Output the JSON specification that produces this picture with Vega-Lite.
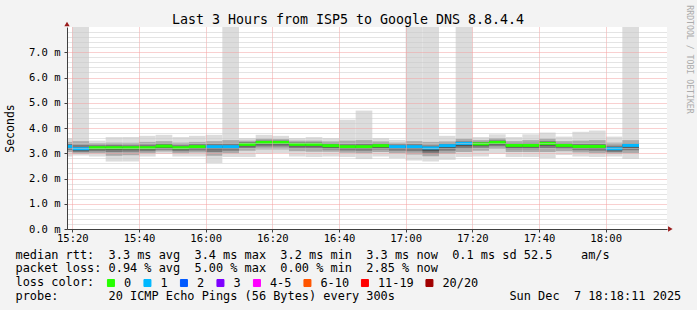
{
  "$schema": "https://vega.github.io/schema/vega-lite/v6.json",
  "width": 600,
  "height": 202,
  "autosize": {"type": "none"},
  "padding": {"left": 67, "top": 27, "right": 30, "bottom": 81},
  "background": "#F3F3F3",
  "config": {"view": {"fill": "white", "stroke": null}, "font": "DejaVu Sans Mono"},
  "title": {"text": "Last 3 Hours from ISP5 to Google DNS 8.8.4.4", "font": "DejaVu Sans Mono", "fontSize": 13.3, "fontWeight": "normal", "color": "black", "anchor": "middle", "dx": -19, "dy": 36.8, "offset": 4.5, "baseline": "alphabetic"},
  "data": {"values": [
    {"t0": 15, "t1": 20, "lo": 2.87, "hi": 3.60, "lo2": 3.05, "hi2": 3.45, "lo3": 3.13, "hi3": 3.37, "lo4": 3.20, "hi4": 3.30, "med": 3.27, "loss": "1"},
    {"t0": 20, "t1": 25, "lo": 2.91, "hi": 8, "lo2": 2.98, "hi2": 3.48, "lo3": 3.05, "hi3": 3.33, "lo4": 3.10, "hi4": 3.22, "med": 3.18, "loss": "1"},
    {"t0": 25, "t1": 30, "lo": 2.87, "hi": 3.50, "lo2": 3.00, "hi2": 3.40, "lo3": 3.08, "hi3": 3.32, "lo4": 3.15, "hi4": 3.25, "med": 3.22, "loss": "0"},
    {"t0": 30, "t1": 35, "lo": 2.67, "hi": 3.64, "lo2": 2.90, "hi2": 3.42, "lo3": 3.05, "hi3": 3.33, "lo4": 3.14, "hi4": 3.25, "med": 3.22, "loss": "0"},
    {"t0": 35, "t1": 40, "lo": 2.67, "hi": 3.64, "lo2": 2.92, "hi2": 3.42, "lo3": 3.06, "hi3": 3.32, "lo4": 3.15, "hi4": 3.25, "med": 3.22, "loss": "0"},
    {"t0": 40, "t1": 45, "lo": 2.87, "hi": 3.69, "lo2": 3.00, "hi2": 3.45, "lo3": 3.08, "hi3": 3.34, "lo4": 3.15, "hi4": 3.25, "med": 3.22, "loss": "0"},
    {"t0": 45, "t1": 50, "lo": 2.98, "hi": 3.73, "lo2": 3.07, "hi2": 3.48, "lo3": 3.14, "hi3": 3.38, "lo4": 3.21, "hi4": 3.31, "med": 3.28, "loss": "0"},
    {"t0": 50, "t1": 55, "lo": 2.87, "hi": 3.64, "lo2": 3.00, "hi2": 3.42, "lo3": 3.08, "hi3": 3.32, "lo4": 3.15, "hi4": 3.25, "med": 3.22, "loss": "0"},
    {"t0": 55, "t1": 60, "lo": 2.87, "hi": 3.69, "lo2": 3.03, "hi2": 3.45, "lo3": 3.11, "hi3": 3.36, "lo4": 3.18, "hi4": 3.29, "med": 3.26, "loss": "0"},
    {"t0": 60, "t1": 65, "lo": 2.61, "hi": 3.73, "lo2": 2.90, "hi2": 3.48, "lo3": 3.05, "hi3": 3.37, "lo4": 3.16, "hi4": 3.29, "med": 3.26, "loss": "1"},
    {"t0": 65, "t1": 70, "lo": 2.85, "hi": 8, "lo2": 3.00, "hi2": 3.52, "lo3": 3.10, "hi3": 3.38, "lo4": 3.18, "hi4": 3.29, "med": 3.26, "loss": "1"},
    {"t0": 70, "t1": 75, "lo": 2.85, "hi": 3.60, "lo2": 3.10, "hi2": 3.50, "lo3": 3.20, "hi3": 3.44, "lo4": 3.27, "hi4": 3.38, "med": 3.35, "loss": "0"},
    {"t0": 75, "t1": 80, "lo": 2.98, "hi": 3.73, "lo2": 3.15, "hi2": 3.58, "lo3": 3.27, "hi3": 3.50, "lo4": 3.35, "hi4": 3.46, "med": 3.43, "loss": "0"},
    {"t0": 80, "t1": 85, "lo": 3.00, "hi": 3.69, "lo2": 3.15, "hi2": 3.56, "lo3": 3.27, "hi3": 3.50, "lo4": 3.35, "hi4": 3.46, "med": 3.43, "loss": "0"},
    {"t0": 85, "t1": 90, "lo": 2.87, "hi": 3.60, "lo2": 3.08, "hi2": 3.50, "lo3": 3.19, "hi3": 3.43, "lo4": 3.27, "hi4": 3.38, "med": 3.35, "loss": "0"},
    {"t0": 90, "t1": 95, "lo": 2.85, "hi": 3.64, "lo2": 3.06, "hi2": 3.50, "lo3": 3.19, "hi3": 3.43, "lo4": 3.27, "hi4": 3.38, "med": 3.35, "loss": "0"},
    {"t0": 95, "t1": 100, "lo": 2.87, "hi": 3.60, "lo2": 3.06, "hi2": 3.47, "lo3": 3.15, "hi3": 3.39, "lo4": 3.22, "hi4": 3.33, "med": 3.30, "loss": "0"},
    {"t0": 100, "t1": 105, "lo": 2.85, "hi": 4.33, "lo2": 3.02, "hi2": 3.50, "lo3": 3.11, "hi3": 3.36, "lo4": 3.18, "hi4": 3.29, "med": 3.26, "loss": "0"},
    {"t0": 105, "t1": 110, "lo": 2.77, "hi": 4.69, "lo2": 3.00, "hi2": 3.52, "lo3": 3.10, "hi3": 3.37, "lo4": 3.18, "hi4": 3.29, "med": 3.26, "loss": "0"},
    {"t0": 110, "t1": 115, "lo": 2.87, "hi": 3.60, "lo2": 3.05, "hi2": 3.47, "lo3": 3.15, "hi3": 3.39, "lo4": 3.22, "hi4": 3.33, "med": 3.30, "loss": "0"},
    {"t0": 115, "t1": 120, "lo": 2.80, "hi": 3.53, "lo2": 3.00, "hi2": 3.42, "lo3": 3.10, "hi3": 3.35, "lo4": 3.18, "hi4": 3.29, "med": 3.26, "loss": "1"},
    {"t0": 120, "t1": 125, "lo": 2.71, "hi": 8, "lo2": 2.95, "hi2": 3.48, "lo3": 3.08, "hi3": 3.36, "lo4": 3.17, "hi4": 3.29, "med": 3.26, "loss": "1"},
    {"t0": 125, "t1": 130, "lo": 2.67, "hi": 8, "lo2": 2.88, "hi2": 3.45, "lo3": 2.98, "hi3": 3.31, "lo4": 3.08, "hi4": 3.24, "med": 3.21, "loss": "1"},
    {"t0": 130, "t1": 135, "lo": 2.74, "hi": 3.69, "lo2": 2.98, "hi2": 3.47, "lo3": 3.10, "hi3": 3.39, "lo4": 3.20, "hi4": 3.33, "med": 3.30, "loss": "1"},
    {"t0": 135, "t1": 140, "lo": 2.85, "hi": 8, "lo2": 3.05, "hi2": 3.58, "lo3": 3.18, "hi3": 3.47, "lo4": 3.28, "hi4": 3.42, "med": 3.39, "loss": "1"},
    {"t0": 140, "t1": 145, "lo": 2.87, "hi": 3.64, "lo2": 3.10, "hi2": 3.52, "lo3": 3.22, "hi3": 3.45, "lo4": 3.29, "hi4": 3.40, "med": 3.37, "loss": "0"},
    {"t0": 145, "t1": 150, "lo": 2.98, "hi": 3.75, "lo2": 3.17, "hi2": 3.60, "lo3": 3.28, "hi3": 3.51, "lo4": 3.35, "hi4": 3.46, "med": 3.43, "loss": "0"},
    {"t0": 150, "t1": 155, "lo": 2.85, "hi": 3.64, "lo2": 3.05, "hi2": 3.48, "lo3": 3.16, "hi3": 3.40, "lo4": 3.23, "hi4": 3.34, "med": 3.31, "loss": "0"},
    {"t0": 155, "t1": 160, "lo": 2.85, "hi": 3.75, "lo2": 3.05, "hi2": 3.52, "lo3": 3.16, "hi3": 3.41, "lo4": 3.23, "hi4": 3.34, "med": 3.31, "loss": "0"},
    {"t0": 160, "t1": 165, "lo": 2.80, "hi": 3.82, "lo2": 3.05, "hi2": 3.58, "lo3": 3.20, "hi3": 3.48, "lo4": 3.30, "hi4": 3.42, "med": 3.39, "loss": "0"},
    {"t0": 165, "t1": 170, "lo": 2.93, "hi": 3.66, "lo2": 3.08, "hi2": 3.48, "lo3": 3.17, "hi3": 3.40, "lo4": 3.24, "hi4": 3.34, "med": 3.31, "loss": "0"},
    {"t0": 170, "t1": 175, "lo": 2.87, "hi": 3.85, "lo2": 3.03, "hi2": 3.50, "lo3": 3.12, "hi3": 3.37, "lo4": 3.19, "hi4": 3.30, "med": 3.27, "loss": "0"},
    {"t0": 175, "t1": 180, "lo": 2.85, "hi": 3.90, "lo2": 3.00, "hi2": 3.52, "lo3": 3.10, "hi3": 3.37, "lo4": 3.18, "hi4": 3.30, "med": 3.27, "loss": "0"},
    {"t0": 180, "t1": 185, "lo": 2.87, "hi": 3.66, "lo2": 2.98, "hi2": 3.42, "lo3": 3.05, "hi3": 3.30, "lo4": 3.11, "hi4": 3.21, "med": 3.18, "loss": "1"},
    {"t0": 185, "t1": 190, "lo": 2.77, "hi": 8, "lo2": 3.00, "hi2": 3.52, "lo3": 3.12, "hi3": 3.40, "lo4": 3.22, "hi4": 3.34, "med": 3.31, "loss": "1"}
  ]},
  "resolve": {"axis": {"y": "independent"}},
  "layer": [
    {
      "mark": {"type": "rect", "color": "#DCDCDC", "clip": true},
      "encoding": {
        "x": {"field": "t0", "type": "quantitative",
          "scale": {"domain": [18.4, 198.4], "nice": false, "zero": false},
          "axis": {
            "values": [20,25,30,35,40,45,50,55,60,65,70,75,80,85,90,95,100,105,110,115,120,125,130,135,140,145,150,155,160,165,170,175,180,185,190,195],
            "labelExpr": "datum.value % 20 == 0 ? (15 + floor(datum.value / 60)) + ':' + (datum.value % 60 < 10 ? '0' : '') + (datum.value % 60) : ''",
            "labelFont": "DejaVu Sans Mono", "labelFontSize": 10.5, "labelColor": "black", "labelPadding": 1, "labelOverlap": false, "labelFlush": false,
            "grid": true, "gridDash": [1, 1], "gridWidth": 1,
            "gridColor": {"condition": {"test": "datum.value % 20 == 0", "value": "#F3A0A0"}, "value": "#C8C8C8"},
            "ticks": true, "tickSize": 3, "tickColor": "#404040",
            "tickOpacity": {"condition": {"test": "datum.value % 20 == 0", "value": 1}, "value": 0},
            "domainColor": "#404040", "zindex": 1,
            "title": ["median\u00a0rtt:\u00a0\u00a03.3\u00a0ms\u00a0avg\u00a0\u00a03.4\u00a0ms\u00a0max\u00a0\u00a03.2\u00a0ms\u00a0min\u00a0\u00a03.3\u00a0ms\u00a0now\u00a0\u00a00.1\u00a0ms\u00a0sd\u00a052.5\u00a0\u00a0\u00a0\u00a0am/s", "packet\u00a0loss:\u00a00.94\u00a0%\u00a0avg\u00a0\u00a05.00\u00a0%\u00a0max\u00a0\u00a00.00\u00a0%\u00a0min\u00a0\u00a02.85\u00a0%\u00a0now", "loss\u00a0color:", "probe:\u00a0\u00a0\u00a0\u00a0\u00a0\u00a0\u00a020\u00a0ICMP\u00a0Echo\u00a0Pings\u00a0(56\u00a0Bytes)\u00a0every\u00a0300s\u00a0\u00a0\u00a0\u00a0\u00a0\u00a0\u00a0\u00a0\u00a0\u00a0\u00a0\u00a0\u00a0\u00a0\u00a0\u00a0Sun\u00a0Dec\u00a0\u00a07\u00a018:18:11\u00a02025"],
            "titleFont": "DejaVu Sans Mono", "titleFontSize": 11.9, "titleFontWeight": "normal", "titleColor": "black",
            "titleAlign": "left", "titleBaseline": "alphabetic", "titleAnchor": "start", "titleX": -52, "titleY": 29.3, "titleLineHeight": 13.67, "titleAngle": 0
          }
        },
        "x2": {"field": "t1"},
        "y": {"field": "lo", "type": "quantitative",
          "scale": {"domain": [0, 8], "nice": false, "zero": true},
          "axis": {
            "values": [0,0.2,0.4,0.6,0.8,1,1.2,1.4,1.6,1.8,2,2.2,2.4,2.6,2.8,3,3.2,3.4,3.6,3.8,4,4.2,4.4,4.6,4.8,5,5.2,5.4,5.6,5.8,6,6.2,6.4,6.6,6.8,7,7.2,7.4,7.6,7.8],
            "labelExpr": "abs(datum.value - round(datum.value)) < 0.01 ? format(datum.value, '.1f') + ' m' : ''",
            "labelFont": "DejaVu Sans Mono", "labelFontSize": 10.5, "labelColor": "black", "labelPadding": 4, "labelOverlap": false, "labelFlush": false,
            "grid": true, "gridDash": [1, 1], "gridWidth": 1,
            "gridColor": {"condition": {"test": "abs(datum.value - round(datum.value)) < 0.01", "value": "#F3A0A0"}, "value": "#C8C8C8"},
            "ticks": true, "tickSize": 3, "tickColor": "#404040",
            "tickOpacity": {"condition": {"test": "abs(datum.value - round(datum.value)) < 0.01", "value": 1}, "value": 0},
            "domainColor": "#404040", "zindex": 1,
            "title": "Seconds", "titleFont": "DejaVu Sans Mono", "titleFontSize": 11.5, "titleFontWeight": "normal", "titleColor": "black",
            "titleAngle": 270, "titleX": -57, "titleY": 101, "titleAlign": "center", "titleBaseline": "middle"
          }
        },
        "y2": {"field": "hi"}
      }
    },
    {
      "mark": {"type": "rect", "color": "#ABABAB", "clip": true},
      "encoding": {
        "x": {"field": "t0", "type": "quantitative"},
        "x2": {"field": "t1"},
        "y": {"field": "lo2", "type": "quantitative", "axis": null},
        "y2": {"field": "hi2"}
      }
    },
    {
      "mark": {"type": "rect", "color": "#7C7C7C", "clip": true},
      "encoding": {
        "x": {"field": "t0", "type": "quantitative"},
        "x2": {"field": "t1"},
        "y": {"field": "lo3", "type": "quantitative", "axis": null},
        "y2": {"field": "hi3"}
      }
    },
    {
      "mark": {"type": "rect", "color": "#515151", "clip": true},
      "encoding": {
        "x": {"field": "t0", "type": "quantitative"},
        "x2": {"field": "t1"},
        "y": {"field": "lo4", "type": "quantitative",
          "axis": {"orient": "right", "title": "RRDTOOL / TOBI OETIKER", "labels": false, "ticks": false, "domain": false, "grid": false,
            "titleAngle": 90, "titleX": 21, "titleY": 32, "titleAlign": "center", "titleBaseline": "middle",
            "titleFont": "DejaVu Sans Mono", "titleFontSize": 8.2, "titleFontWeight": "normal", "titleColor": "#ABABAB"}},
        "y2": {"field": "hi4"}
      }
    },
    {
      "mark": {"type": "rule", "strokeWidth": 3, "clip": true},
      "encoding": {
        "x": {"field": "t0", "type": "quantitative"},
        "x2": {"field": "t1"},
        "y": {"field": "med", "type": "quantitative", "axis": null},
        "color": {"field": "loss", "type": "nominal",
          "scale": {"domain": ["0", "1", "2", "3", "4-5", "6-10", "11-19", "20/20"],
                    "range": ["#26ff00", "#00b8ff", "#0059ff", "#7e00ff", "#ff00ff", "#ff5500", "#ff0000", "#a10000"]},
          "legend": {
            "orient": "none", "legendX": 38, "legendY": 250, "direction": "horizontal", "padding": 0, "title": null,
            "labelFont": "DejaVu Sans Mono", "labelFontSize": 11.9, "labelColor": "black", "labelOffset": 7, "labelBaseline": "middle",
            "columnPadding": 9.5, "symbolType": "square", "symbolSize": 49,
            "encode": {"symbols": {"update": {"fill": {"scale": "color", "field": "value"}, "stroke": {"value": "black"}, "strokeWidth": {"value": 1}, "shape": {"value": "square"}, "size": {"value": 49}, "opacity": {"value": 1}}}}
          }
        }
      }
    },
    {
      "data": {"values": [{"ax": 18.4, "ay": 8.12}]},
      "mark": {"type": "point", "shape": "triangle-up", "filled": true, "color": "#9A1C1C", "size": 28, "opacity": 1, "clip": false},
      "encoding": {
        "x": {"field": "ax", "type": "quantitative"},
        "y": {"field": "ay", "type": "quantitative", "axis": null}
      }
    },
    {
      "data": {"values": [{"ax": 199.4, "ay": 0}]},
      "mark": {"type": "point", "shape": "triangle-right", "filled": true, "color": "#9A1C1C", "size": 28, "opacity": 1, "clip": false},
      "encoding": {
        "x": {"field": "ax", "type": "quantitative"},
        "y": {"field": "ay", "type": "quantitative", "axis": null}
      }
    }
  ]
}
